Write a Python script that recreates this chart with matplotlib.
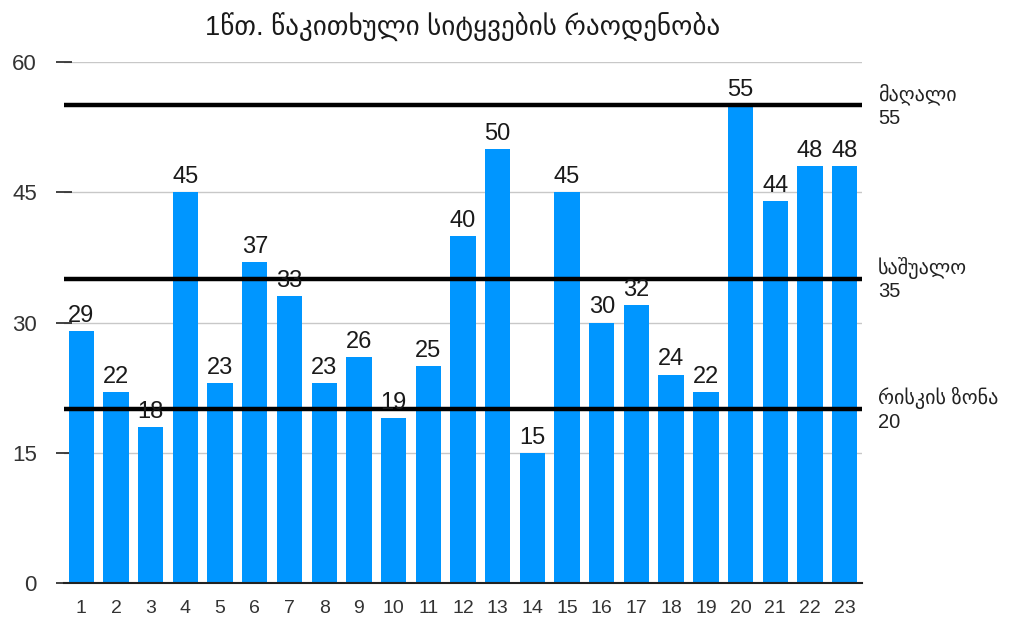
import matplotlib.pyplot as plt

plt.rcParams['font.family'] = ['Liberation Sans', 'DejaVu Sans']

# data
days = [str(i) for i in range(1, 24)]
words = [29, 22, 18, 45, 23, 37, 33, 23, 26, 19, 25, 40, 50, 15, 45, 30, 32, 24, 22, 55, 44, 48, 48]
title = "1წთ. წაკითხული სიტყვების რაოდენობა"
ref_names = ["მაღალი", "საშუალო", "რისკის ზონა"]
ref_values = [55, 35, 20]

fig = plt.figure(figsize=(10.2, 6.18), dpi=100)
ax = fig.add_axes([0.0627, 0.0566, 0.7824, 0.8431])

x = range(len(days))
bars = ax.bar(x, words, width=0.73, color='#0096ff', zorder=2)

# value labels on top of bars
for xi, v in zip(x, words):
    ax.text(xi, v + 1.05, str(v), ha='center', va='baseline', fontsize=17, color='#1a1a1a', zorder=4)

# reference lines with labels on the right
for name, val in zip(ref_names, ref_values):
    ax.axhline(val, color='black', linewidth=3.2, zorder=3)
    ax.text(1.02, val, f"{name}\n{val}", transform=ax.get_yaxis_transform(),
            ha='left', va='center', fontsize=14.5, color='#222222', linespacing=1.25)

ax.set_xlim(-0.5, len(days) - 0.5)
ax.set_ylim(0, 60)
ax.set_yticks([0, 15, 30, 45, 60])
ax.set_xticks(list(x))
ax.set_xticklabels(days)
ax.yaxis.grid(True, color='#c8c8c8', linewidth=1, zorder=0)
ax.set_axisbelow(True)

for side in ['left', 'right', 'top']:
    ax.spines[side].set_visible(False)
ax.spines['bottom'].set_linewidth(1.5)
ax.spines['bottom'].set_color('#222222')

ax.tick_params(axis='y', direction='inout', length=11, width=1.2, color='#222222',
               labelsize=16, labelcolor='#333333', pad=14)
ax.tick_params(axis='x', length=0, labelsize=14, labelcolor='#333333', pad=12)

ax.set_title(title, fontsize=19.5, color='#1a1a1a', pad=19)

fig.savefig('out.png', dpi=100)
